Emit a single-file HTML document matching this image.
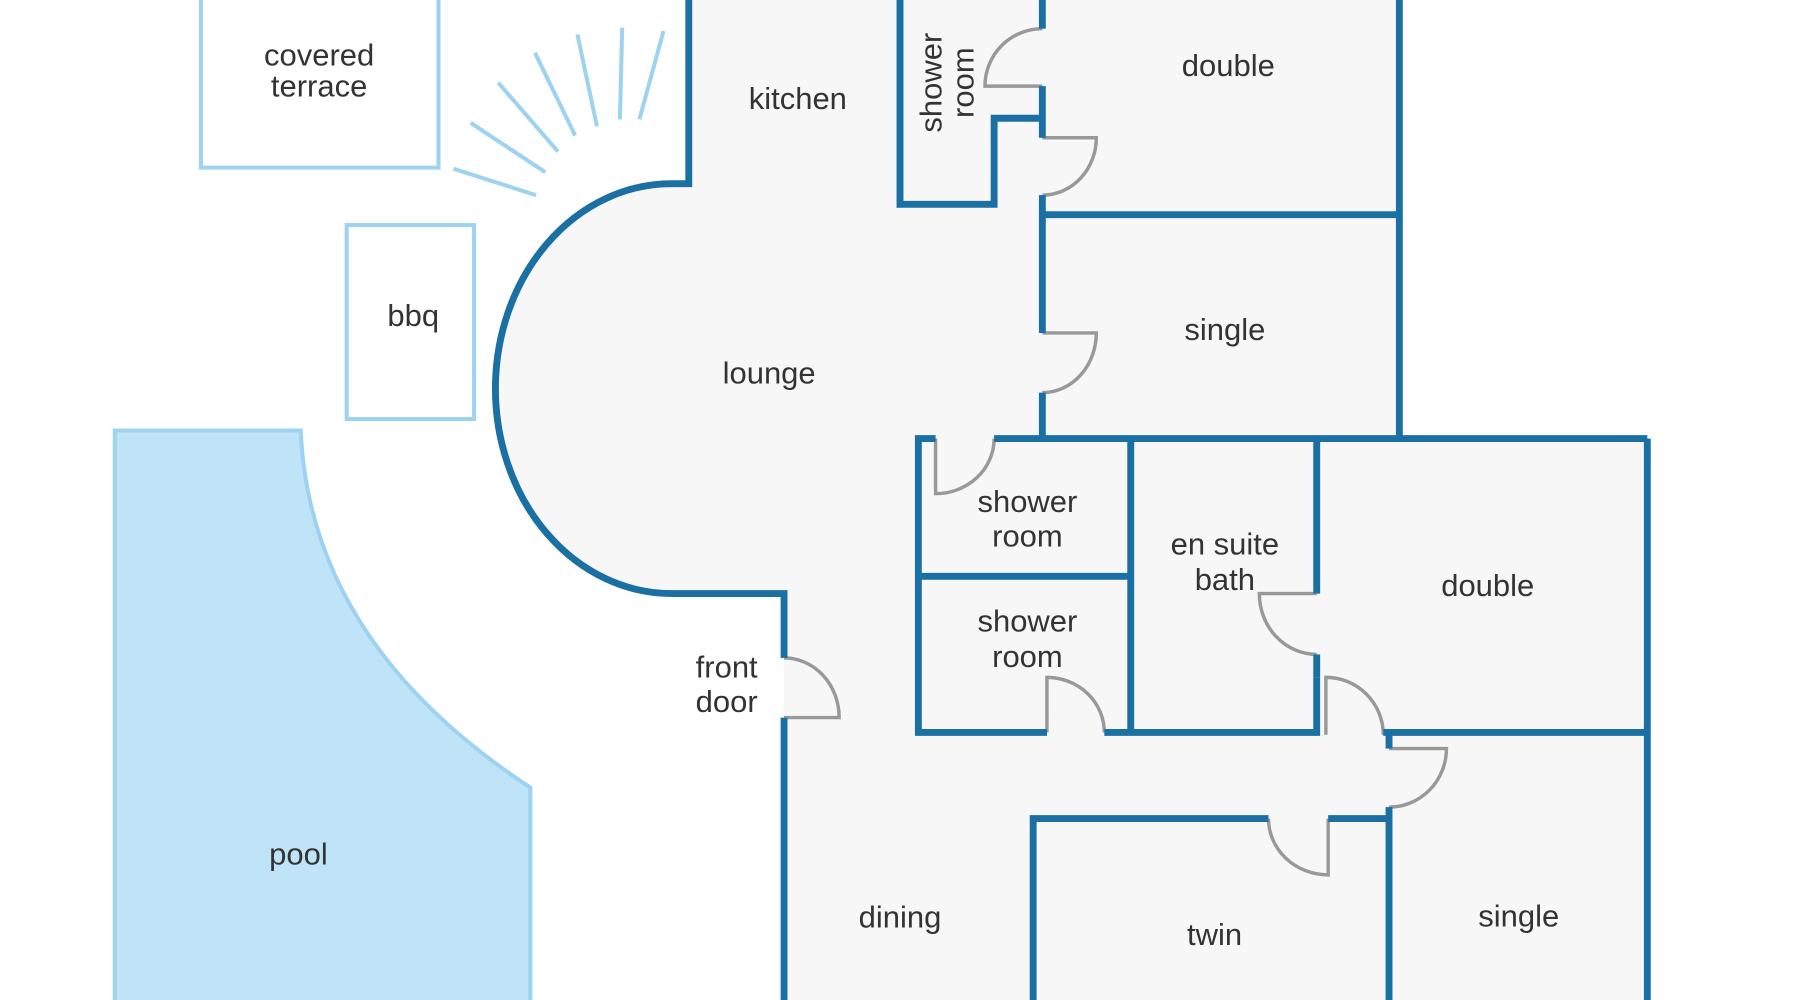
<!DOCTYPE html>
<html><head><meta charset="utf-8"><style>
html,body{margin:0;padding:0;background:#fff;overflow:hidden}
svg{display:block}
text{font-family:"Liberation Sans","DejaVu Sans",sans-serif;font-size:27px;fill:#333;text-anchor:middle}
</style></head><body>
<svg width="1800" height="1000" viewBox="0 0 1568 871" preserveAspectRatio="none" xmlns="http://www.w3.org/2000/svg">
<g fill="none" stroke="#9dd3f0" stroke-width="3.5">
<rect x="175" y="-5" width="207" height="151"/>
<rect x="302" y="196" width="111" height="169"/>
<line x1="395" y1="147" x2="467" y2="170"/>
<line x1="410" y1="107" x2="475" y2="150"/>
<line x1="434" y1="72" x2="486" y2="132"/>
<line x1="466" y1="46" x2="501" y2="118"/>
<line x1="503" y1="30" x2="520" y2="110"/>
<line x1="542" y1="24" x2="540" y2="104"/>
<line x1="578" y1="27" x2="557" y2="104"/>
</g>
<path d="M100 375 L262 375 Q270 560 462 686 L462 875 L100 875 Z" fill="#c0e4f7" stroke="#9dd3f0" stroke-width="3.5"/>
<path d="M600 0 L1219 0 L1219 382 L1435 382 L1435 875 L683 875 L683 517 L585 517 A153 178 0 0 1 585 160 L600 160 Z" fill="#f7f7f7"/>
<g fill="none" stroke="#999" stroke-width="3">
<path d="M908 75 L858 75 A50 50 0 0 1 908 25"/>
<path d="M908 120 L955 120 A47 50 0 0 1 908 170"/>
<path d="M908 290 L955 290 A47 52 0 0 1 908 342"/>
<path d="M815 382 L815 430 A51 48 0 0 0 866 382"/>
<path d="M683 625 L731 625 A48 52 0 0 0 683 573"/>
<path d="M912 638 L912 590 A50 48 0 0 1 962 638"/>
<path d="M1147 517 L1097 517 A50 53 0 0 0 1147 570"/>
<path d="M1155 640 L1155 590 A50 50 0 0 1 1205 640"/>
<path d="M1210 652 L1260 652 A50 51 0 0 1 1210 703"/>
<path d="M1157 713 L1157 762 A52 49 0 0 1 1105 713"/>
</g>
<g fill="none" stroke="#1a6fa3" stroke-width="6" stroke-linejoin="miter">
<path d="M600 0 L600 160 L585 160 A153 178 0 0 0 585 517 L683 517 L683 573"/>
<path d="M683 625 L683 875"/>
<path d="M1219 0 L1219 382"/>
<path d="M1435 382 L1435 875"/>
<path d="M784 0 L784 178 L866 178 L866 103 L908 103"/>
<path d="M908 0 L908 25"/>
<path d="M908 75 L908 120"/>
<path d="M908 170 L908 290"/>
<path d="M908 342 L908 382"/>
<path d="M908 187 L1219 187"/>
<path d="M815 382 L800 382 L800 638 L912 638"/>
<path d="M866 382 L1435 382"/>
<path d="M800 502 L985 502"/>
<path d="M985 382 L985 638"/>
<path d="M962 638 L1147 638 L1147 590"/>
<path d="M1147 382 L1147 517"/>
<path d="M1147 570 L1147 590"/>
<path d="M1205 638 L1435 638"/>
<path d="M1210 638 L1210 652"/>
<path d="M1210 703 L1210 875"/>
<path d="M900 875 L900 713 L1105 713"/>
<path d="M1157 713 L1210 713"/>
</g>
<text x="278" y="57">covered</text>
<text x="278" y="84">terrace</text>
<text x="695" y="95">kitchen</text>
<text transform="translate(820,72) rotate(-90)">shower</text>
<text transform="translate(848,72) rotate(-90)">room</text>
<text x="1070" y="66">double</text>
<text x="1067" y="296">single</text>
<text x="670" y="334">lounge</text>
<text x="360" y="284">bbq</text>
<text x="895" y="446">shower</text>
<text x="895" y="476">room</text>
<text x="1067" y="483">en suite</text>
<text x="1067" y="514">bath</text>
<text x="1296" y="519">double</text>
<text x="895" y="550">shower</text>
<text x="895" y="581">room</text>
<text x="633" y="590">front</text>
<text x="633" y="620">door</text>
<text x="260" y="753">pool</text>
<text x="784" y="808">dining</text>
<text x="1058" y="823">twin</text>
<text x="1323" y="807">single</text>
</svg>
</body></html>
